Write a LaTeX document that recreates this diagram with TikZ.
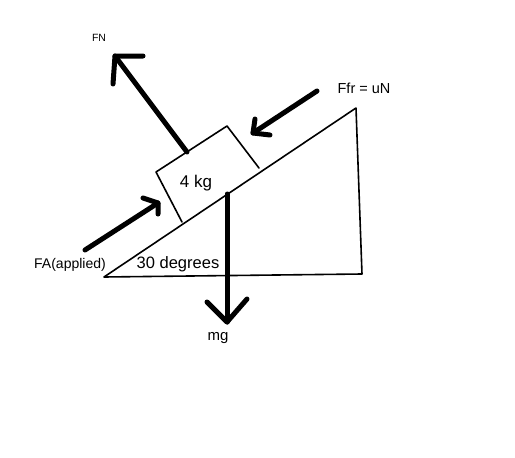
\documentclass[tikz,border=0pt]{standalone}
\usepackage{fontspec}
\setmainfont{Liberation Sans}
\begin{document}
\begin{tikzpicture}[x=1pt,y=-1pt,
  thin line/.style={line width=1.6pt,line cap=round,line join=round},
  force/.style={line width=5pt,line cap=round,line join=round},
  lbl/.style={inner sep=0pt,font=\fontsize{14}{16}\selectfont}]
\useasboundingbox[fill=white] (0,0) rectangle (515,458);
% incline
\coordinate (A) at (104,277);
\coordinate (B) at (362,274);
\coordinate (C) at (356,108);
\draw[thin line] (A) -- (B) -- (C) -- cycle;
% block
\coordinate (b1) at (182,222);
\coordinate (b2) at (156,172);
\coordinate (b3) at (227,126);
\coordinate (b4) at (259,168);
\draw[thin line] (b1) -- (b2) -- (b3) -- (b4);
\node[lbl,font=\fontsize{17}{19}\selectfont] (kg) at (196,183) {4 kg};
% FN
\coordinate (fn0) at (187,152);
\coordinate (fn1) at (115,56);
\draw[force] (fn0) -- (fn1);
\draw[force] (143,56) -- (fn1) -- (113,84);
\node[lbl,font=\fontsize{10.5}{12}\selectfont] (FN) at (99,38) {FN};
% Ffr
\coordinate (ff0) at (317,91);
\coordinate (ff1) at (253,133);
\draw[force] (ff0) -- (ff1);
\draw[force] (255,119) -- (ff1) -- (270,135);
\node[lbl,font=\fontsize{14.5}{16}\selectfont] (Ffr) at (364,88) {Ffr = uN};
% FA
\coordinate (fa0) at (85,250);
\coordinate (fa1) at (158,203);
\draw[force] (fa0) -- (fa1);
\draw[force] (143,198) -- (fa1) -- (158,214);
\node[lbl,font=\fontsize{14}{16}\selectfont] (FA) at (70,265) {FA(applied)};
% mg
\coordinate (mg0) at (227,194);
\coordinate (mg1) at (227,322);
\draw[force] (mg0) -- (mg1);
\draw[force] (207,302) -- (mg1) -- (247,299);
\node[lbl,font=\fontsize{15}{17}\selectfont] (mg) at (218,338) {mg};
% angle
\node[lbl,font=\fontsize{16.5}{18}\selectfont] (ang) at (178,264) {30 degrees};
\end{tikzpicture}
\end{document}
